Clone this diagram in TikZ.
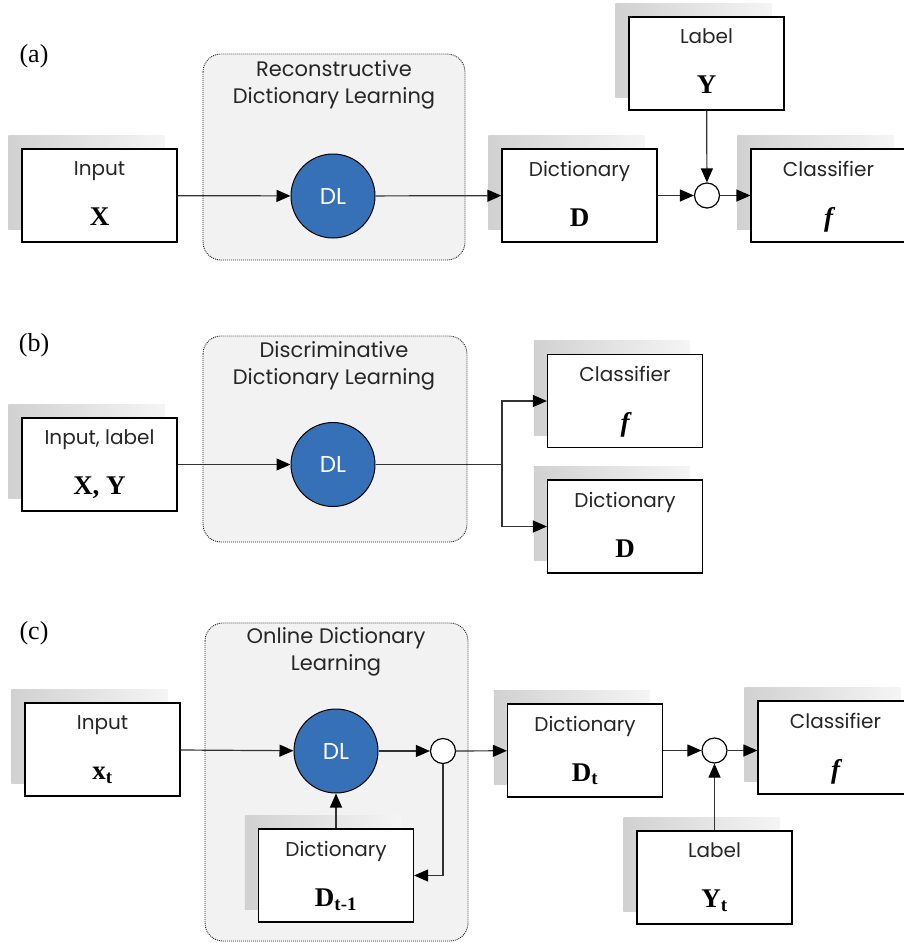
\documentclass[tikz,border=0pt]{standalone}
\usepackage{fontspec}
\setmainfont{Liberation Serif}
\setsansfont{Poppins}
\usetikzlibrary{arrows.meta,positioning}
\pgfdeclarelayer{back}
\pgfdeclarelayer{shade}
\pgfsetlayers{back,shade,main}
\definecolor{dlblue}{RGB}{54,112,182}
\definecolor{txtgray}{RGB}{38,38,38}
\definecolor{linegray}{RGB}{50,50,50}
\definecolor{boxgray}{RGB}{242,242,242}
\newcommand{\sym}[1]{{\color{black}\rmfamily\bfseries\fontsize{27}{27}\selectfont #1}}
\begin{document}
\begin{tikzpicture}[x=1pt,y=-1pt,line cap=butt,line join=miter,
		blk/.style={draw=black,line width=1.2pt,fill=white,minimum width=155,minimum height=93,
			align=center,text=txtgray,font=\sffamily\fontsize{20}{24}\selectfont,text depth=4pt,inner sep=0pt},
		dl/.style={circle,draw=black,line width=1pt,fill=dlblue,minimum size=84,inner sep=0pt,
			text=white,font=\sffamily\fontsize{23}{24}\selectfont},
		sum/.style={circle,draw=black,line width=1.2pt,fill=white,minimum size=25,inner sep=0pt},
		grp/.style={draw=black!85,dash pattern=on 1pt off 1pt,line width=0.9pt,fill=boxgray,rounded corners=18},
		ttl/.style={align=center,text=txtgray,font=\sffamily\fontsize{21}{27}\selectfont},
		tag/.style={font=\rmfamily\fontsize{26}{26}\selectfont},
		arr/.style={draw=linegray,line width=1.2pt,-{Triangle[length=14pt,width=12pt,color=black]}},
		ln/.style={draw=linegray,line width=1.2pt}]
	\useasboundingbox (0,0) rectangle (904,943);
	\begin{pgfonlayer}{back}
		\draw[grp] (203,54) rectangle (465,260);
		\draw[grp] (203,336) rectangle (467,542);
		\draw[grp] (205,623) rectangle (468,941);
	\end{pgfonlayer}
	% (a)
	\node[tag] (tagA) at (34,56) {(a)};
	\node[ttl] (ttlA) at (334,85) {Reconstructive\\Dictionary Learning};
	\node[blk] (inA) at (99.5,195.5) {Input\\[26pt]\sym{X}};
	\node[dl] (dlA) at (333,196) {DL};
	\node[blk] (dicA) at (579.5,195.5) {Dictionary\\[26pt]\sym{D}};
	\node[blk] (labA) at (706.5,63.5) {Label\\[26pt]\sym{Y}};
	\node[sum] (sumA) at (707,195.5) {};
	\node[blk] (clsA) at (828.5,195.5) {Classifier\\[26pt]\sym{\itshape f}};
	\draw[arr] (inA) -- (dlA);
	\draw[arr] (dlA) -- (dicA);
	\draw[arr] (dicA) -- (sumA);
	\draw[arr] (labA) -- (sumA);
	\draw[arr] (sumA) -- (clsA);
	% (b)
	\node[tag] (tagB) at (34,345) {(b)};
	\node[ttl] (ttlB) at (334,366) {Discriminative\\Dictionary Learning};
	\node[blk] (inB) at (99.5,464.5) {Input, label\\[26pt]\sym{X, Y}};
	\node[dl] (dlB) at (333,464.5) {DL};
	\node[blk] (clsB) at (625,401) {Classifier\\[26pt]\sym{\itshape f}};
	\node[blk] (dicB) at (625,526.5) {Dictionary\\[26pt]\sym{D}};
	\coordinate (brB) at (502,464.5);
	\draw[arr] (inB) -- (dlB);
	\draw[ln] (dlB) -- (brB);
	\draw[arr] (brB) |- (clsB);
	\draw[arr] (brB) |- (dicB);
	% (c)
	\node[tag] (tagC) at (34,633) {(c)};
	\node[ttl] (ttlC) at (336,652) {Online Dictionary\\Learning};
	\node[blk] (inC) at (102.5,749.5) {Input\\[26pt]\sym{x\textsubscript{t}}};
	\node[dl] (dlC) at (336,751) {DL};
	\node[sum] (sumC) at (443,751) {};
	\node[blk] (oldC) at (336,875.5) {Dictionary\\[26pt]\sym{D\textsubscript{t-1}}};
	\node[blk] (dicC) at (585,750.5) {Dictionary\\[26pt]\sym{D\textsubscript{t}}};
	\node[sum] (sumD) at (714.5,750.5) {};
	\node[blk] (clsC) at (835.5,747.5) {Classifier\\[26pt]\sym{\itshape f}};
	\node[blk] (labC) at (714.5,877.5) {Label\\[26pt]\sym{Y\textsubscript{t}}};
	\draw[arr] (inC) -- (dlC);
	\draw[arr] (dlC) -- (sumC);
	\draw[arr] (sumC) -- (dicC);
	\draw[arr] (sumC) |- (oldC);
	\draw[arr] (oldC) -- (dlC);
	\draw[arr] (dicC) -- (sumD);
	\draw[arr] (labC) -- (sumD);
	\draw[arr] (sumD) -- (sumD -| clsC.west);
	\begin{pgfonlayer}{shade}
		\foreach \b in {inA,dicA,labA,clsA,inB,clsB,dicB,inC,oldC,dicC,clsC,labC}{
			\shade[left color=black!18,right color=black!4]
				([shift={(-13,-13)}]\b.south west) rectangle ([shift={(-13,-13)}]\b.north east);
		}
	\end{pgfonlayer}
\end{tikzpicture}
\end{document}
